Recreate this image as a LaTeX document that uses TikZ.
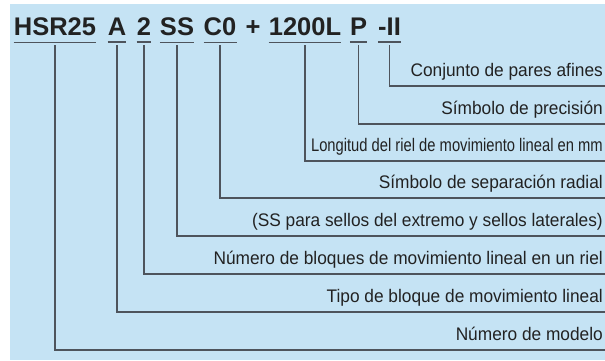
\documentclass[tikz,border=0pt]{standalone}
\usepackage{fontspec}
\setmainfont{Liberation Sans}
\newfontfamily\descfont{Liberation Sans}[FakeStretch=0.95]
\newfontfamily\narrowfont{Liberation Sans}[FakeStretch=0.81]
\usepackage{tikz}
\usetikzlibrary{positioning}
\definecolor{panelblue}{RGB}{197,227,244}
\definecolor{wire}{RGB}{78,84,92}
\definecolor{ink}{RGB}{34,34,34}

\begin{document}
\begin{tikzpicture}[x=1pt, y=-1pt,
  code/.style={font=\fontsize{25.5}{28}\selectfont\bfseries, text=ink, inner sep=0pt, anchor=base},
  desc/.style={font=\fontsize{18.2}{20}\descfont, text=ink, inner xsep=2pt, inner ysep=4pt, text depth=5pt, anchor=south east},
  uline/.style={wire, line width=1.6pt},
  conn/.style={wire, line width=1.4pt}]

\useasboundingbox (0,0) rectangle (605,360);

% Background panel
\fill[panelblue] (10,4) rectangle (605,360);

% Code parts
\foreach \n/\x/\lab in {hsr/55/HSR25, blk/117/A, num/144/2, seal/177/SS, clr/220/C0, plus/253/+, len/305/1200L, acc/358.5/P, pair/389.5/-II}
  \node[code] (\n) at (\x,35) {\lab};

% Underlines
\foreach \n in {hsr, blk, num, seal, clr, len, acc, pair}
  \draw[uline] ([yshift=-7pt]\n.south west) -- ([yshift=-7pt]\n.south east);

% Descriptions, right aligned
\foreach \n/\y/\lab in {lpair/86/{Conjunto de pares afines}, lacc/124/{Símbolo de precisión}, llen/161/{\narrowfont Longitud del riel de movimiento lineal en mm}, lclr/198/{Símbolo de separación radial}, lseal/236/{(SS para sellos del extremo y sellos laterales)}, lnum/274/{Número de bloques de movimiento lineal en un riel}, lblk/312/{Tipo de bloque de movimiento lineal}, lhsr/350/{Número de modelo}}
  \node[desc] (\n) at (605,\y) {\lab};

% Leader lines
\foreach \a/\b in {pair/lpair, acc/lacc, len/llen, clr/lclr, seal/lseal, num/lnum, blk/lblk, hsr/lhsr}
  \draw[conn] ([yshift=-10pt]\a.south) |- (\b.south east);

\end{tikzpicture}
\end{document}
